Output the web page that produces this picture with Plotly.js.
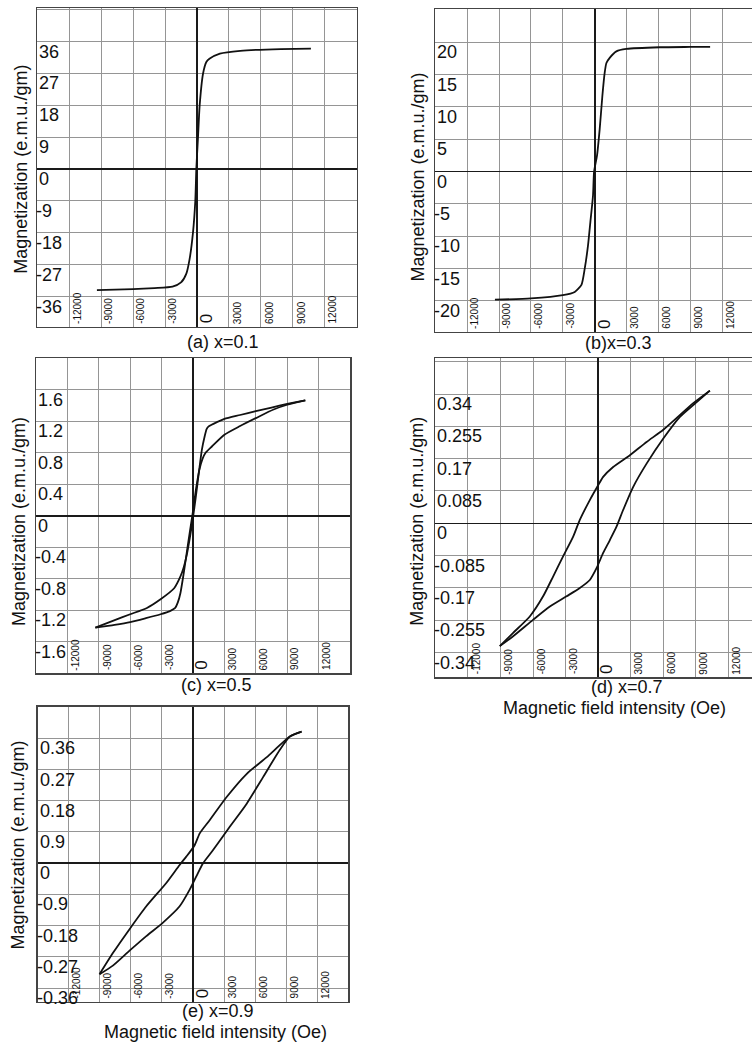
<!DOCTYPE html>
<html><head><meta charset="utf-8">
<script src="https://cdn.plot.ly/plotly-3.0.1.min.js"></script>
<style>html,body{margin:0;padding:0;background:#fff;}#chart{width:752px;height:1048px;}</style>
</head><body><div id="chart"></div><script>
// ---------- data ----------
const xTickVals = [-12000, -9000, -6000, -3000, 3000, 6000, 9000, 12000];
const xTickText = ["-12000", "-9000", "-6000", "-3000", "3000", "6000", "9000", "12000"];

// (a) x=0.1
const a_H = [-9400, -6000, -4000, -2300, -1500, -1000, -700, -380, -160, -63, 95, 250, 570, 890, 1200, 2150, 4060, 7860, 10700];
const a_M = [-34.2, -33.9, -33.6, -33.2, -32.0, -29.5, -25.5, -18, -9, 0, 9, 18, 27, 30.3, 31.2, 32.6, 33.4, 33.9, 34.0];
const a_yTicks = [36, 27, 18, 9, 0, -9, -18, -27, -36];
const a_yText = ["36", "27", "18", "9", "0", "-9", "-18", "-27", "-36"];

// (b) x=0.3
const b_H = [-9390, -6000, -3000, -1880, -1250, -940, -630, -410, -160, -60, 220, 470, 720, 940, 1100, 1410, 2040, 2980, 6110, 9000, 10860];
const b_M = [-19.8, -19.6, -19.1, -18.6, -17.5, -15, -11.4, -7.8, -3.7, 0, 2.5, 6.6, 11.7, 15.3, 16.8, 17.6, 18.6, 18.97, 19.23, 19.28, 19.3];
const b_yTicks = [20, 15, 10, 5, 0, -5, -10, -15, -20];
const b_yText = ["20", "15", "10", "5", "0", "-5", "-10", "-15", "-20"];

// (c) x=0.5
const c_upH = [-9330, -7500, -6000, -4500, -3100, -2200, -1700, -1450, -1200, -900, -600, -300, 0, 300, 600, 900, 1200, 1800, 3000, 4500, 6000, 7700, 9000, 10730];
const c_upM = [-1.42, -1.385, -1.35, -1.3, -1.25, -1.21, -1.17, -1.1, -0.98, -0.74, -0.47, -0.2, 0.06, 0.35, 0.58, 0.72, 0.8, 0.88, 1.03, 1.14, 1.24, 1.35, 1.41, 1.465];
const c_downH = [10730, 9000, 7500, 6000, 4500, 3000, 2000, 1500, 1300, 1100, 850, 550, 250, 0, -250, -600, -900, -1200, -1800, -3100, -4400, -6000, -7600, -9330];
const c_downM = [1.465, 1.42, 1.375, 1.33, 1.28, 1.23, 1.17, 1.135, 1.1, 1.0, 0.84, 0.54, 0.22, -0.02, -0.24, -0.5, -0.66, -0.77, -0.92, -1.06, -1.17, -1.25, -1.33, -1.42];
const c_yTicks = [1.6, 1.2, 0.8, 0.4, 0, -0.4, -0.8, -1.2, -1.6];
const c_yText = ["1.6", "1.2", "0.8", "0.4", "0", "-0.4", "-0.8", "-1.2", "-1.6"];

// (d) x=0.7
const d_upH = [-9060, -7830, -6000, -4450, -2910, -1690, -770, -150, 460, 1080, 1690, 2300, 3230, 4460, 6000, 7530, 8760, 10290];
const d_upM = [-0.323, -0.297, -0.254, -0.219, -0.192, -0.17, -0.149, -0.118, -0.078, -0.044, -0.009, 0.035, 0.096, 0.157, 0.223, 0.28, 0.311, 0.349];
const d_downH = [10290, 8760, 6000, 4460, 2920, 1380, 460, 0, -770, -1690, -2300, -3230, -4150, -5070, -6300, -7830, -9060];
const d_downM = [0.349, 0.316, 0.246, 0.214, 0.179, 0.148, 0.122, 0.1, 0.061, 0.009, -0.035, -0.087, -0.14, -0.192, -0.245, -0.288, -0.323];
const d_yTicks = [0.34, 0.255, 0.17, 0.085, 0, -0.085, -0.17, -0.255, -0.34];
const d_yText = ["0.34", "0.255", "0.17", "0.085", "0", "-0.085", "-0.17", "-0.255", "-0.34"];

// (e) x=0.9
const e_upH = [-9030, -7740, -6130, -4510, -2900, -1290, -320, 320, 970, 1940, 3550, 5170, 6770, 8390, 9360, 10490];
const e_upM = [-0.32, -0.295, -0.252, -0.21, -0.171, -0.124, -0.076, -0.038, 0, 0.038, 0.105, 0.171, 0.248, 0.327, 0.365, 0.379];
const e_downH = [10490, 9360, 7100, 5170, 3230, 1610, 650, 160, -650, -1290, -2580, -4510, -6130, -7740, -9030];
const e_downM = [0.379, 0.365, 0.305, 0.257, 0.19, 0.124, 0.086, 0.052, 0.019, -0.005, -0.057, -0.124, -0.19, -0.259, -0.32];
const e_yTicks = [0.36, 0.27, 0.18, 0.09, 0, -0.09, -0.18, -0.27, -0.36];
const e_yText = ["0.36", "0.27", "0.18", "0.9", "0", "-0.9", "-0.18", "-0.27", "-0.36"];

const yTitle = "Magnetization (e.m.u./gm)";
const xTitle = "Magnetic field intensity (Oe)";
const panelTitles = ["(a) x=0.1", "(b)x=0.3", "(c) x=0.5", "(d) x=0.7", "(e) x=0.9"];

// ---------- layout helpers ----------
const W = 752, H = 1048;
const FONT = "Liberation Sans, Arial, Helvetica, sans-serif";
const px = v => v / W;
const py = v => 1 - v / H;

const panels = [
  {box: [37.3, 356.7, 8.3, 326.7], xr: [-15000, 15000], yr: [-44.5, 45.4], dy: 9, yt: a_yTicks, ytx: a_yText, mirrorY: true},
  {box: [435.3, 752, 9.3, 331.7], xr: [-15000, 14800], yr: [-24.75, 25.1], dy: 5, yt: b_yTicks, ytx: b_yText, mirrorY: false},
  {box: [36, 350, 358.3, 673.3], xr: [-15000, 15000], yr: [-2, 2], dy: 0.4, yt: c_yTicks, ytx: c_yText, mirrorY: true},
  {box: [435.3, 752, 358.3, 677.3], xr: [-15000, 14170], yr: [-0.405, 0.434], dy: 0.085, yt: d_yTicks, ytx: d_yText, mirrorY: false},
  {box: [37.7, 348.3, 706.7, 1001.7], xr: [-15000, 15000], yr: [-0.399, 0.451], dy: 0.09, yt: e_yTicks, ytx: e_yText, mirrorY: true}
];

const layout = {
  width: W, height: H,
  margin: {l: 0, r: 0, t: 0, b: 0},
  paper_bgcolor: "#fff", plot_bgcolor: "#fff",
  showlegend: false,
  font: {family: FONT, color: "#111"},
  annotations: []
};

const GRID = "#959595";
panels.forEach((p, i) => {
  const n = i + 1, sx = n === 1 ? "" : String(n);
  layout["xaxis" + sx] = {
    domain: [px(p.box[0]), px(p.box[1])], range: p.xr, anchor: "y" + sx,
    tick0: 0, dtick: 3000, showgrid: true, gridcolor: GRID, gridwidth: 1,
    zeroline: true, zerolinecolor: "#1a1a1a", zerolinewidth: 1.6,
    showline: true, mirror: true, linecolor: "#444", linewidth: 1.5,
    showticklabels: false, ticks: "", fixedrange: true
  };
  layout["yaxis" + sx] = {
    domain: [py(p.box[3]), py(p.box[2])], range: p.yr, anchor: "x" + sx,
    tick0: 0, dtick: p.dy, showgrid: true, gridcolor: GRID, gridwidth: 1,
    zeroline: true, zerolinecolor: "#1a1a1a", zerolinewidth: 1.6,
    showline: true, mirror: p.mirrorY, linecolor: "#444", linewidth: 1.5,
    showticklabels: false, ticks: "", fixedrange: true
  };
  // y tick labels (inside, below gridline)
  p.yt.forEach((v, k) => {
    const t = p.ytx[k];
    layout.annotations.push({
      xref: "x" + sx, yref: "y" + sx, x: p.xr[0], y: v, text: t, showarrow: false,
      xanchor: "left", yanchor: "middle", xshift: t.startsWith("-") ? -3 : 0, yshift: -10,
      font: {size: 18, color: "#111", family: FONT}
    });
  });
  // x tick labels (rotated, inside bottom row)
  xTickVals.forEach((v, k) => {
    layout.annotations.push({
      xref: "x" + sx, yref: "y" + sx, x: v, y: p.yr[0], text: xTickText[k], showarrow: false,
      textangle: -90, xanchor: "center", yanchor: "bottom", xshift: 8, yshift: 1,
      font: {size: 10, color: "#111", family: FONT}
    });
  });
  layout.annotations.push({
    xref: "x" + sx, yref: "y" + sx, x: 0, y: p.yr[0], text: "0", showarrow: false,
    textangle: -90, xanchor: "center", yanchor: "bottom", xshift: 9, yshift: 1,
    font: {size: 17, color: "#111", family: FONT}
  });
});

// panel titles and axis titles
const titlePos = [[222.7, 342], [618.5, 343], [216.7, 685], [626.7, 687], [217.5, 1011]];
panelTitles.forEach((t, i) => {
  layout.annotations.push({xref: "paper", yref: "paper", x: px(titlePos[i][0]), y: py(titlePos[i][1]),
    text: t, showarrow: false, xanchor: "center", yanchor: "middle", borderpad: 0, borderwidth: 0,
    font: {size: 18, color: "#111", family: FONT}});
});
const yTitlePos = [[20.7, 169], [417.5, 177], [18.3, 521.7], [416.8, 521], [17.5, 845]];
yTitlePos.forEach(p => {
  layout.annotations.push({xref: "paper", yref: "paper", x: px(p[0]), y: py(p[1]), text: yTitle,
    showarrow: false, textangle: -90, xanchor: "center", yanchor: "middle", font: {size: 18, color: "#111", family: FONT}});
});
[[614, 708], [215, 1032]].forEach(p => {
  layout.annotations.push({xref: "paper", yref: "paper", x: px(p[0]), y: py(p[1]), text: xTitle,
    showarrow: false, xanchor: "center", yanchor: "middle", borderpad: 0, borderwidth: 0,
    font: {size: 18, color: "#111", family: FONT}});
});

// ---------- traces ----------
const LINE = {color: "#111", width: 1.8, shape: "spline", smoothing: 0.6};
function tr(x, y, n) {
  const sx = n === 1 ? "" : String(n);
  return {type: "scatter", mode: "lines", x: x, y: y, xaxis: "x" + sx, yaxis: "y" + sx, line: LINE, hoverinfo: "skip"};
}
const data = [
  tr(a_H, a_M, 1),
  tr(b_H, b_M, 2),
  tr(c_upH, c_upM, 3), tr(c_downH, c_downM, 3),
  tr(d_upH, d_upM, 4), tr(d_downH, d_downM, 4),
  tr(e_upH, e_upM, 5), tr(e_downH, e_downM, 5)
];

Plotly.newPlot("chart", data, layout, {staticPlot: true, displayModeBar: false});
</script></body></html>
